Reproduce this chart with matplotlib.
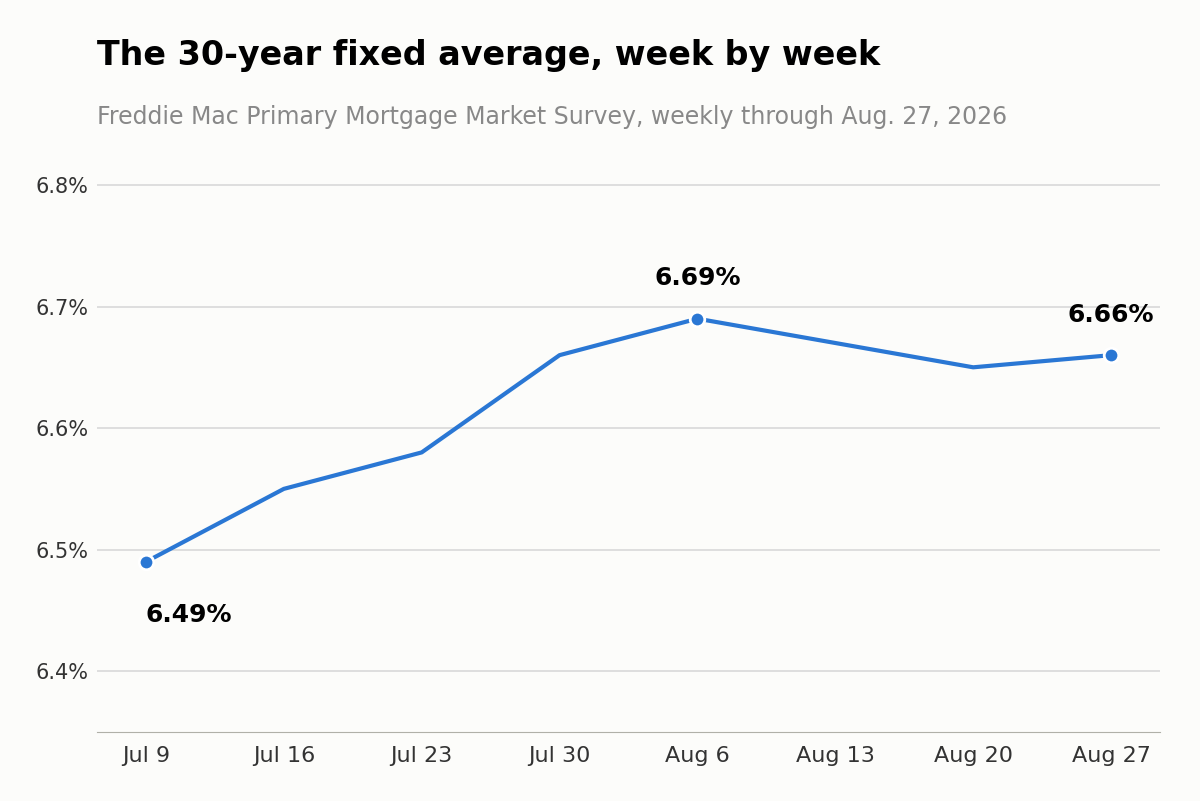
import matplotlib.pyplot as plt

weeks = ['Jul 9', 'Jul 16', 'Jul 23', 'Jul 30', 'Aug 6', 'Aug 13', 'Aug 20', 'Aug 27']
rates = [6.49, 6.55, 6.58, 6.66, 6.69, 6.67, 6.65, 6.66]
highlight = [0, 4, 7]
yticks = [6.4, 6.5, 6.6, 6.7, 6.8]

bg = '#fcfcfa'
blue = '#2a77d4'

fig = plt.figure(figsize=(12, 8.01), dpi=100, facecolor=bg)
ax = fig.add_axes([97/1200, 69/801, (1160-97)/1200, (732-148.5)/801], facecolor=bg)

x = list(range(len(weeks)))
ax.plot(x, rates, color=blue, lw=3, zorder=3)
ax.scatter([x[i] for i in highlight], [rates[i] for i in highlight], s=110,
           color=blue, edgecolor='white', linewidth=2, zorder=4)

ax.annotate(f'{rates[0]:.2f}%', (x[0], rates[0]), xytext=(0, -38), textcoords='offset points',
            ha='left', va='center', fontsize=18, fontweight='bold')
ax.annotate(f'{rates[4]:.2f}%', (x[4], rates[4]), xytext=(0, 29), textcoords='offset points',
            ha='center', va='center', fontsize=18, fontweight='bold')
ax.annotate(f'{rates[7]:.2f}%', (x[7], rates[7]), xytext=(0, 29), textcoords='offset points',
            ha='center', va='center', fontsize=18, fontweight='bold')

ax.set_xlim(-0.355, 7.355)
ax.set_ylim(6.35, 6.83)
ax.set_yticks(yticks)
ax.set_yticklabels([f'{v:.1f}%' for v in yticks])
ax.set_xticks(x)
ax.set_xticklabels(weeks)
ax.grid(axis='y', color='#d9d9d9', lw=1.2)
ax.set_axisbelow(True)
for s in ['top', 'right', 'left']:
    ax.spines[s].set_visible(False)
ax.spines['bottom'].set_color('#b0b0a8')
ax.tick_params(axis='y', length=0, labelsize=15, labelcolor='#333333', pad=6)
ax.tick_params(axis='x', length=0, labelsize=16, labelcolor='#333333', pad=10)

fig.text(97/1200, 1-55/801, 'The 30-year fixed average, week by week',
         fontsize=24, fontweight='bold', va='center', ha='left')
fig.text(97/1200, 1-117/801, 'Freddie Mac Primary Mortgage Market Survey, weekly through Aug. 27, 2026',
         fontsize=17, color='#888888', va='center', ha='left')

fig.savefig('out.png', facecolor=bg)
